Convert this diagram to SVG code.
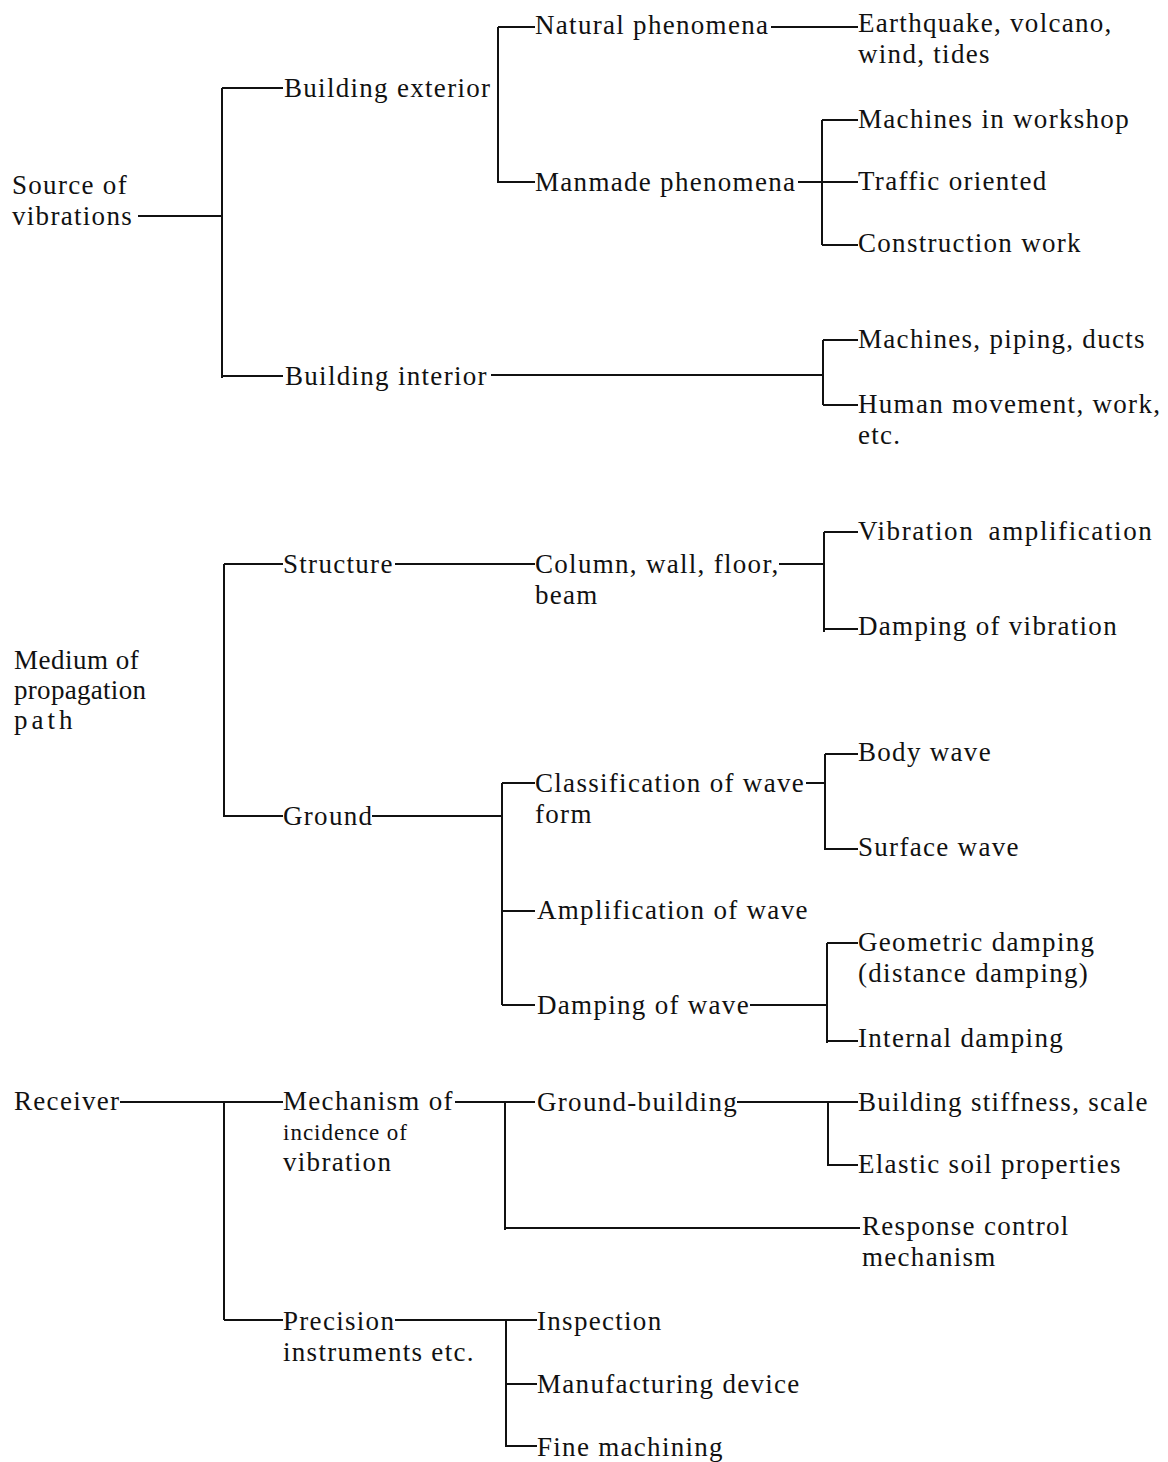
<svg xmlns="http://www.w3.org/2000/svg" width="1168" height="1462" viewBox="0 0 1168 1462">
<style>
text{font-family:"Liberation Serif","Times New Roman",serif;font-size:27px;letter-spacing:1.3px;fill:#111}
.c path{stroke:#111;stroke-width:2;fill:none}
.sm{font-size:23px;letter-spacing:1px}
</style>
<rect width="1168" height="1462" fill="#fff"/>
<g class="c" id="connectors">
<path d="M138 216H222M222 88V378M222 88H283M222 376H283M491 375H823"/>
<path d="M498 27V183M498 27H535M771 27H858M498 182H535M798 182H858"/>
<path d="M822 120V245M822 120H858M822 245H858"/>
<path d="M823 340V405M823 340H858M823 405H858"/>
<path d="M224 564V817M224 564H283M395 564H535M779 564H824M824 532V632M824 532H858M824 629H858"/>
<path d="M224 816H283M372 816H502M502 783V1005M502 783H535M806 783H825M825 754V850M825 754H858M825 849H858"/>
<path d="M502 911H535M502 1005H535M750 1005H827M827 943V1043M827 943H858M827 1041H858"/>
<path d="M120 1102H283M224 1102V1320M455 1102H535M505 1102V1230M737 1102H858M828 1102V1166M828 1165H858M505 1228H860"/>
<path d="M224 1320H283M395 1320H537M506 1320V1447M506 1384H537M506 1446H537"/>
</g>
<g id="n-source"><text x="12" y="194">Source of</text><text x="12" y="225">vibrations</text></g>
<g id="n-ext"><text x="284" y="97">Building exterior</text></g>
<g id="n-int"><text x="285" y="385">Building interior</text></g>
<g id="n-nat"><text x="535" y="34">Natural phenomena</text></g>
<g id="n-eq"><text x="858" y="32">Earthquake, volcano,</text><text x="858" y="63">wind, tides</text></g>
<g id="n-man"><text x="535" y="191">Manmade phenomena</text></g>
<g id="n-mw"><text x="858" y="128">Machines in workshop</text></g>
<g id="n-traf"><text x="858" y="190">Traffic oriented</text></g>
<g id="n-cons"><text x="858" y="252">Construction work</text></g>
<g id="n-mpd"><text x="858" y="348">Machines, piping, ducts</text></g>
<g id="n-hum"><text x="858" y="413">Human movement, work,</text><text x="858" y="444">etc.</text></g>
<g id="n-medium"><text x="14" y="669" style="letter-spacing:0.5px">Medium of</text><text x="14" y="699" style="letter-spacing:0.3px">propagation</text><text x="14" y="729" style="letter-spacing:4px">path</text></g>
<g id="n-struct"><text x="283" y="573">Structure</text></g>
<g id="n-col"><text x="535" y="573">Column, wall, floor,</text><text x="535" y="604">beam</text></g>
<g id="n-va"><text x="858" y="540" word-spacing="6" style="letter-spacing:1.6px">Vibration amplification</text></g>
<g id="n-dv"><text x="858" y="635">Damping of vibration</text></g>
<g id="n-ground"><text x="283" y="825">Ground</text></g>
<g id="n-class"><text x="535" y="792">Classification of wave</text><text x="535" y="823">form</text></g>
<g id="n-body"><text x="858" y="761">Body wave</text></g>
<g id="n-surf"><text x="858" y="856">Surface wave</text></g>
<g id="n-amp"><text x="537" y="919">Amplification of wave</text></g>
<g id="n-dw"><text x="537" y="1014">Damping of wave</text></g>
<g id="n-geo"><text x="858" y="951">Geometric damping</text><text x="858" y="982">(distance damping)</text></g>
<g id="n-intd"><text x="858" y="1047">Internal damping</text></g>
<g id="n-recv"><text x="14" y="1110">Receiver</text></g>
<g id="n-mech"><text x="283" y="1110">Mechanism of</text><text class="sm" x="283" y="1140">incidence of</text><text x="283" y="1171">vibration</text></g>
<g id="n-gb"><text x="537" y="1111">Ground-building</text></g>
<g id="n-bss"><text x="858" y="1111">Building stiffness, scale</text></g>
<g id="n-esp"><text x="858" y="1173">Elastic soil properties</text></g>
<g id="n-rcm"><text x="862" y="1235">Response control</text><text x="862" y="1266">mechanism</text></g>
<g id="n-prec"><text x="283" y="1330">Precision</text><text x="283" y="1361">instruments etc.</text></g>
<g id="n-insp"><text x="537" y="1330">Inspection</text></g>
<g id="n-manu"><text x="537" y="1393">Manufacturing device</text></g>
<g id="n-fine"><text x="537" y="1456">Fine machining</text></g>
</svg>
